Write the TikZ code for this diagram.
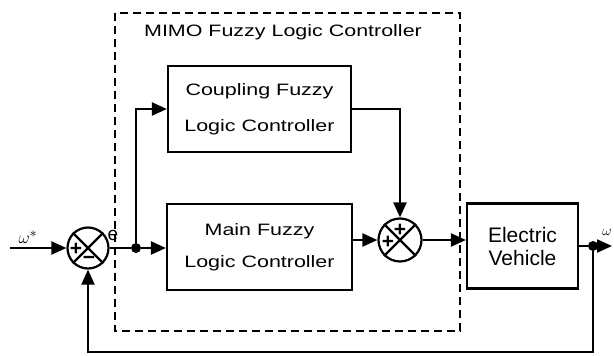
\documentclass[tikz,border=0pt]{standalone}
\usepackage{fontspec}
\setmainfont{Liberation Sans}
\newfontfamily\widefont{Liberation Sans}[FakeStretch=1.3]
\usetikzlibrary{arrows.meta, positioning, calc}

\begin{document}
\begin{tikzpicture}[x=1pt, y=-1pt,
    block/.style={draw, line width=2.2pt, inner sep=0pt, align=center},
    sumnode/.style={draw, circle, line width=2.2pt, minimum size=41pt, inner sep=0pt},
    wire/.style={line width=2.2pt},
    flow/.style={line width=2.2pt, -{Triangle[length=15pt, width=13pt]}},
    junction/.style={circle, fill, inner sep=0pt, minimum size=10pt},
    sign/.style={font=\fontsize{21}{21}\selectfont\bfseries, inner sep=0pt}]
  \useasboundingbox (0,0) rectangle (614,356);

  % MIMO controller frame
  \draw[line width=2.2pt, dash pattern=on 8pt off 5pt] (115,13) rectangle (460,331);
  \node[font=\widefont\fontsize{16.5}{20}\selectfont] (title) at (283,32) {MIMO Fuzzy Logic Controller};

  % blocks
  \node[block, minimum width=183pt, minimum height=86pt, font=\widefont\fontsize{16.5}{36}\selectfont]
    (coupling) at (259.5,109) {Coupling Fuzzy\\Logic Controller};
  \node[block, minimum width=185pt, minimum height=86pt, font=\widefont\fontsize{16.5}{32}\selectfont]
    (main) at (259.5,247) {Main Fuzzy\\Logic Controller};
  \node[block, minimum width=111pt, minimum height=85pt, font=\fontsize{21}{23}\selectfont]
    (ev) at (522.5,246) {Electric\\Vehicle};

  % summing junctions
  \node[sumnode] (sum1) at (88,248) {};
  \node[sumnode, minimum size=43pt] (sum2) at (400,240) {};
  \foreach \s in {sum1, sum2} {
    \draw[wire] (\s.north east) -- (\s.south west);
    \draw[wire] (\s.north west) -- (\s.south east);
  }
  \node[sign] (plusa) at ($(sum1)+(-12,1)$) {+};
  \node[sign] (minusa) at ($(sum1)+(1,12)$) {−};
  \node[sign] (plusb) at ($(sum2)+(0,-10)$) {+};
  \node[sign] (plusc) at ($(sum2)+(-12,2)$) {+};

  % signal flow
  \coordinate (ref) at (10,248);
  \draw[flow] (ref) -- (sum1.west);
  \node[junction] (split) at (136,248) {};
  \draw[wire] (sum1.east) -- (split);
  \draw[flow] (split) -- (main.west |- split);
  \draw[flow] (split) |- (coupling.west);
  \draw[flow] (coupling.east) -| (sum2.north);
  \draw[flow] (main.east |- sum2) -- (sum2.west);
  \draw[flow] (sum2.east) -- (ev.west |- sum2);
  \node[junction] (tap) at (593,246) {};
  \draw[wire] (ev.east) -- (tap);
  \coordinate (out) at (612,246);
  \draw[flow] (tap) -- (out);
  \coordinate (fb) at (88,352);
  \draw[flow] (tap) |- (fb) -- (sum1.south);

  % labels
  \node[font=\fontsize{19}{19}\selectfont] (wref) at (28,237) {$\omega^{*}$};
  \node[font=\fontsize{19}{19}\selectfont] (elabel) at (113,235) {e};
  \node[font=\fontsize{15}{15}\selectfont] (wout) at (607,232) {$\omega$};
\end{tikzpicture}
\end{document}
